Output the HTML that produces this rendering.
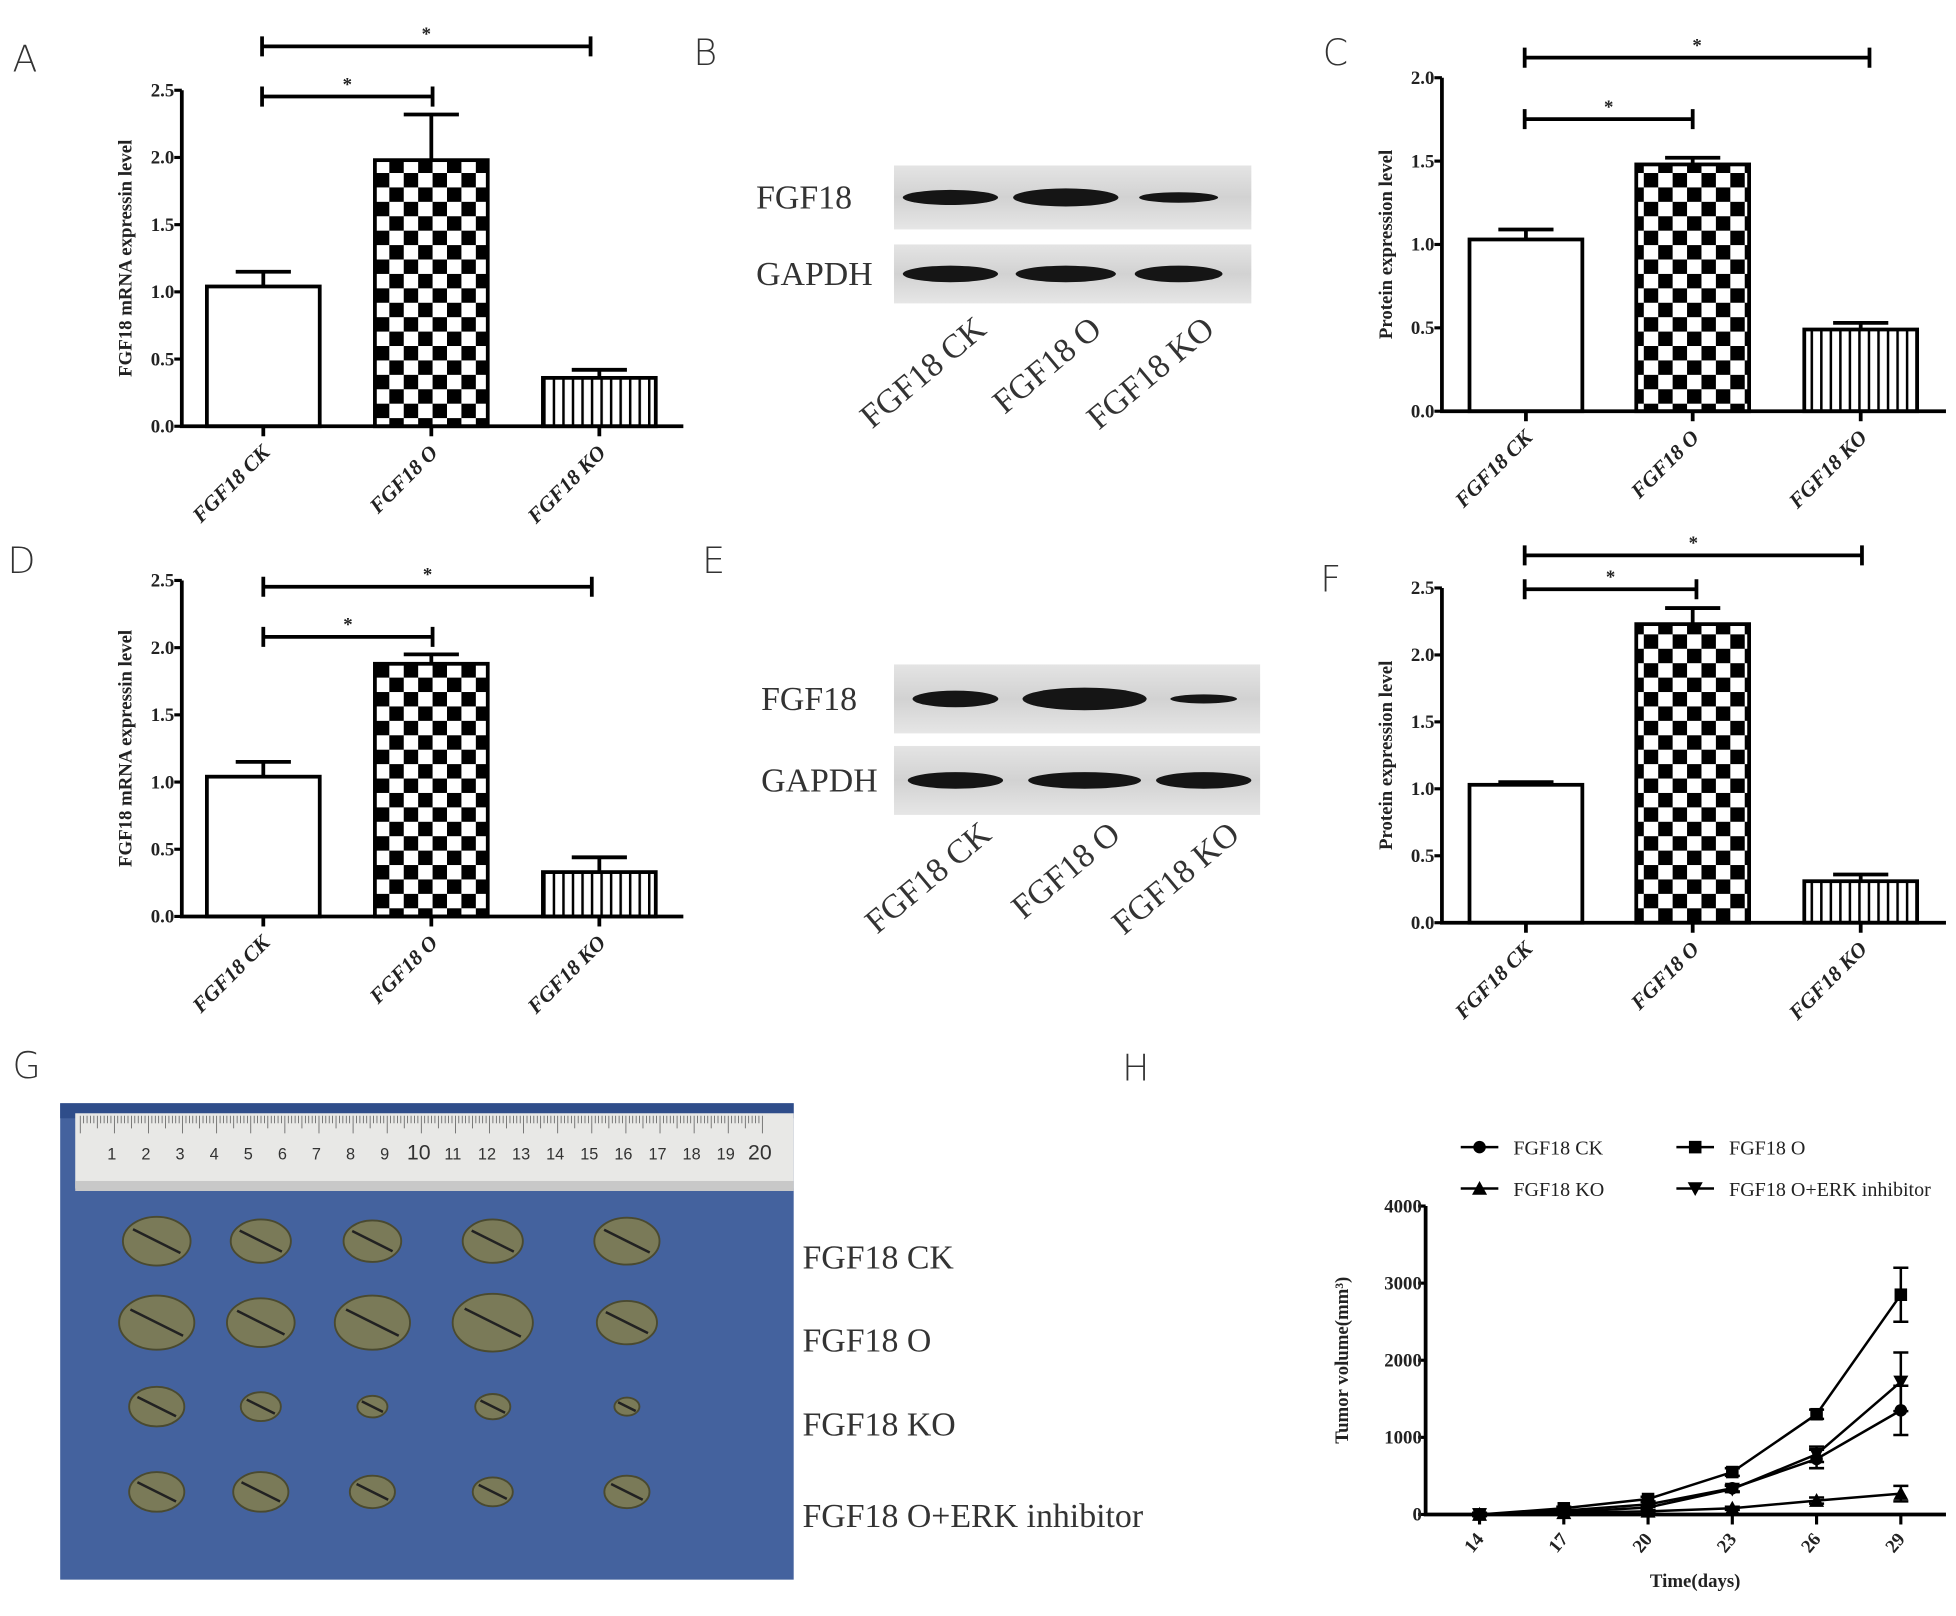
<!DOCTYPE html>
<html><head><meta charset="utf-8"><style>
html,body{margin:0;padding:0;background:#fff;}
svg{display:block;}
.pl{font-family:"DejaVu Sans","Liberation Sans",sans-serif;font-size:29px;fill:#333;font-weight:300;}
.tk{font-family:"Liberation Serif",serif;font-weight:bold;font-size:15px;fill:#222;}
.ti{font-family:"Liberation Serif",serif;font-weight:bold;font-size:15px;fill:#222;}
.cat{font-family:"Liberation Serif",serif;font-weight:bold;font-style:italic;font-size:17px;fill:#222;}
.wb{font-family:"Liberation Serif",serif;font-size:27px;fill:#333;}
.wbc{font-family:"Liberation Serif",serif;font-size:27px;fill:#333;}
.lg{font-family:"Liberation Serif",serif;font-size:16px;fill:#222;}
</style></head><body>
<svg id="fig" width="1956" height="1616" viewBox="0 0 1560 1289" preserveAspectRatio="none" xmlns="http://www.w3.org/2000/svg">
<defs>
<pattern id="chk" width="23" height="23" patternUnits="userSpaceOnUse"><rect width="23" height="23" fill="#fff"/><rect width="11.5" height="11.5" fill="#000"/><rect x="11.5" y="11.5" width="11.5" height="11.5" fill="#000"/></pattern>
<pattern id="vst" width="7.6" height="10" patternUnits="userSpaceOnUse"><rect width="7.6" height="10" fill="#fff"/><rect width="2" height="10" fill="#000"/></pattern>
<linearGradient id="wbg" x1="0" x2="0" y1="0" y2="1"><stop offset="0" stop-color="#e4e4e4"/><stop offset="0.5" stop-color="#d2d2d2"/><stop offset="1" stop-color="#e6e6e6"/></linearGradient>
</defs>
<g id="root"></g>
</svg>
<script>
// ---- bar chart data ----
const barCats = ["FGF18 CK", "FGF18 O", "FGF18 KO"];
const valsA = [1.04, 1.98, 0.36];
const errsA = [0.11, 0.34, 0.06];
const valsC = [1.03, 1.48, 0.49];
const errsC = [0.06, 0.04, 0.04];
const valsD = [1.04, 1.88, 0.33];
const errsD = [0.11, 0.07, 0.11];
const valsF = [1.03, 2.23, 0.31];
const errsF = [0.02, 0.12, 0.05];
const ticks25 = ["0.0", "0.5", "1.0", "1.5", "2.0", "2.5"];
const ticks20 = ["0.0", "0.5", "1.0", "1.5", "2.0"];
// ---- line chart data ----
const days = [14, 17, 20, 23, 26, 29];
const seriesNames = ["FGF18 CK", "FGF18 O", "FGF18 KO", "FGF18 O+ERK inhibitor"];
const ckVals = [0, 50, 130, 340, 720, 1350];
const oVals = [0, 80, 200, 550, 1300, 2850];
const koVals = [0, 20, 40, 80, 180, 270];
const erkVals = [0, 30, 90, 330, 780, 1720];
const ckErr = [20, 20, 30, 40, 120, 320];
const oErr = [20, 20, 30, 50, 60, 350];
const koErr = [10, 10, 15, 20, 40, 100];
const erkErr = [15, 20, 30, 40, 100, 380];
const volTicks = [0, 1000, 2000, 3000, 4000];

const NS = "http://www.w3.org/2000/svg";
const root = document.getElementById('root');
function mk(tag, at, parent) {
  const e = document.createElementNS(NS, tag);
  for (const k in at) e.setAttribute(k, at[k]);
  (parent || root).appendChild(e);
  return e;
}
function txt(s, at, parent) { const e = mk('text', at, parent); e.textContent = s; return e; }

function panelLetter(s, x, y) {
  const t = txt(s, {x: x, y: y, class: 'pl'});
  
  
}

function barChart(cfg) {
  const g = mk('g', {});
  
  
  const y = v => cfg.y0 - (v / cfg.max) * (cfg.y0 - cfg.yTop);
  const fills = ['#fff', 'url(#chk)', 'url(#vst)'];
  cfg.vals.forEach((v, i) => {
    const cx = cfg.cx[i];
    const b = mk('rect', {x: cx - cfg.bw / 2, y: y(v), width: cfg.bw, height: cfg.y0 - y(v), fill: fills[i], stroke: '#000', 'stroke-width': 3}, g);
    
    
    const e = v + cfg.errs[i];
    const eb = mk('path', {d: `M${cx},${y(v)}V${y(e)}M${cx - 22},${y(e)}H${cx + 22}`, stroke: '#000', 'stroke-width': 3, fill: 'none'}, g);
    
    
    mk('line', {x1: cx, x2: cx, y1: cfg.y0, y2: cfg.y0 + 8, stroke: '#000', 'stroke-width': 3}, g);
    const lt = txt(barCats[i], {class: 'cat', 'text-anchor': 'end', transform: `translate(${cx + 6},${cfg.y0 + 22}) rotate(-45)`}, g);
    
    
  });
  const ax = mk('path', {d: `M${cfg.ax},${cfg.yTop}V${cfg.y0}H${cfg.xEnd}`, stroke: '#000', 'stroke-width': 3, fill: 'none'}, g);
  
  
  cfg.ticks.forEach((t, i) => {
    const v = parseFloat(t);
    mk('line', {x1: cfg.ax - 6, x2: cfg.ax, y1: y(v), y2: y(v), stroke: '#000', 'stroke-width': 2.5}, g);
    const tl = txt(t, {x: cfg.ax - 6, y: y(v) + 5, class: 'tk', 'text-anchor': 'end'}, g);
    
    
  });
  const yt = txt(cfg.title, {class: 'ti', 'text-anchor': 'middle', transform: `translate(${cfg.ax - 40},${(cfg.yTop + cfg.y0) / 2}) rotate(-90)`}, g);
  
  
  cfg.sig.forEach(s => {
    const p = mk('path', {d: `M${s[0]},${s[2] - 8}V${s[2] + 8}M${s[0]},${s[2]}H${s[1]}M${s[1]},${s[2] - 8}V${s[2] + 8}`, stroke: '#000', 'stroke-width': 3, fill: 'none'}, g);
    
    
    const st = txt('*', {x: (s[0] + s[1]) / 2, y: s[2] - 5, class: 'tk', 'text-anchor': 'middle'}, g);
    
    
  });
}

barChart({name: 'chart-a', vals: valsA, errs: errsA, ticks: ticks25, max: 2.5, ax: 145, yTop: 72, y0: 340, xEnd: 545, bw: 90, cx: [210, 344, 478], title: 'FGF18 mRNA expressin level', sig: [[209, 471, 37], [209, 345, 77]]});
barChart({name: 'chart-d', vals: valsD, errs: errsD, ticks: ticks25, max: 2.5, ax: 145, yTop: 463, y0: 731, xEnd: 545, bw: 90, cx: [210, 344, 478], title: 'FGF18 mRNA expressin level', sig: [[210, 472, 468], [210, 345, 508]]});
barChart({name: 'chart-c', vals: valsC, errs: errsC, ticks: ticks20, max: 2.0, ax: 1150, yTop: 62, y0: 328, xEnd: 1552, bw: 90, cx: [1217, 1350, 1484], title: 'Protein expression level', sig: [[1216, 1491, 46], [1216, 1350, 95]]});
barChart({name: 'chart-f', vals: valsF, errs: errsF, ticks: ticks25, max: 2.5, ax: 1150, yTop: 469, y0: 736, xEnd: 1552, bw: 90, cx: [1217, 1350, 1484], title: 'Protein expression level', sig: [[1216, 1485, 443], [1216, 1353, 470]]});

function blot(name, x0, x1, rows, bandPos, bandW, labelX, catY) {
  const g = mk('g', {});
  
  
  rows.forEach(r => {
    mk('rect', {x: x0, y: r.y, width: x1 - x0, height: r.h, fill: 'url(#wbg)'}, g);
    bandPos.forEach((bx, i) => {
      const band = mk('ellipse', {cx: bx, cy: r.y + r.h / 2, rx: bandW[i] * r.s[i], ry: 6 * r.t[i], fill: '#151515'}, g);
      
      
    });
    const l = txt(r.label, {x: labelX, y: r.y + r.h / 2 + 9, class: 'wb'}, g);
    
    
  });
  bandPos.forEach((bx, i) => {
    const c = txt(barCats[i], {class: 'wbc', 'text-anchor': 'end', transform: `translate(${bx + 30},${catY}) rotate(-40)`}, g);
    
    
  });
}
blot('western-blot-b', 713, 998, [
  {y: 132, h: 51, label: 'FGF18', s: [1, 1.05, 0.9], t: [1, 1.2, 0.7]},
  {y: 195, h: 47, label: 'GAPDH', s: [1, 1, 1], t: [1.1, 1.1, 1.1]}
], [758, 850, 940], [38, 40, 35], 603, 265);
blot('western-blot-e', 713, 1005, [
  {y: 530, h: 55, label: 'FGF18', s: [0.9, 1.1, 0.7], t: [1.1, 1.5, 0.6]},
  {y: 595, h: 55, label: 'GAPDH', s: [1, 1, 1], t: [1.1, 1.1, 1.1]}
], [762, 865, 960], [38, 45, 38], 607, 668);

(function () {
  const g = mk('g', {});
  
  
  mk('rect', {x: 48, y: 880, width: 585, height: 380, fill: '#44629e'}, g);
  mk('rect', {x: 48, y: 880, width: 585, height: 12, fill: '#2f4d8a'}, g);
  mk('rect', {x: 60, y: 888, width: 573, height: 60, fill: '#e8e8e6'}, g);
  mk('rect', {x: 60, y: 942, width: 573, height: 8, fill: '#c8c8c8'}, g);
  for (let i = 0; i <= 200; i++) {
    const x = 64 + i * 2.72;
    mk('line', {x1: x, x2: x, y1: 890, y2: 890 + (i % 10 === 0 ? 14 : i % 5 === 0 ? 10 : 6), stroke: '#555', 'stroke-width': 0.6}, g);
  }
  for (let n = 1; n <= 20; n++) {
    txt(String(n), {x: 64 + n * 27.2 - 2, y: 925, 'font-family': 'Liberation Sans,sans-serif', 'font-size': n === 10 || n === 20 ? 17 : 13, fill: '#333', 'text-anchor': 'middle'}, g);
  }
  const rowsY = [990, 1055, 1122, 1190];
  const colsX = [125, 208, 297, 393, 500];
  const sizes = [[27, 24, 23, 24, 26], [30, 27, 30, 32, 24], [22, 16, 12, 14, 10], [22, 22, 18, 16, 18]];
  rowsY.forEach((ry, r) => colsX.forEach((cx, c) => {
    const s = sizes[r][c];
    mk('ellipse', {cx: cx, cy: ry, rx: s, ry: s * 0.72, fill: '#7a7a58', stroke: '#4a4a30', 'stroke-width': 1.5}, g);
    mk('line', {x1: cx - s * 0.7, y1: ry - s * 0.35, x2: cx + s * 0.7, y2: ry + s * 0.35, stroke: '#222', 'stroke-width': 2}, g);
  }));
  const lbls = ['FGF18 CK', 'FGF18 O', 'FGF18 KO', 'FGF18 O+ERK inhibitor'];
  const ly = [1012, 1078, 1145, 1218];
  lbls.forEach((s, i) => {
    const t = txt(s, {x: 640, y: ly[i], class: 'wb', 'font-size': 26});
    
    
  });
})();

(function () {
  const g = mk('g', {});
  
  
  const AX = 1137, Y0 = 1208, YT = 962, XE = 1552;
  const xs = d => 1180 + (d - 14) / 15 * (1516 - 1180);
  const ys = v => Y0 - v / 4000 * (Y0 - YT);
  const ax = mk('path', {d: `M${AX},${YT}V${Y0}H${XE}`, stroke: '#000', 'stroke-width': 3, fill: 'none'}, g);
  
  
  volTicks.forEach(v => {
    mk('line', {x1: AX - 6, x2: AX, y1: ys(v), y2: ys(v), stroke: '#000', 'stroke-width': 2.5}, g);
    const t = txt(String(v), {x: AX - 3, y: ys(v) + 5, class: 'tk', 'text-anchor': 'end'}, g);
    
    
  });
  days.forEach(d => {
    mk('line', {x1: xs(d), x2: xs(d), y1: Y0, y2: Y0 + 8, stroke: '#000', 'stroke-width': 2.5}, g);
    const t = txt(String(d), {class: 'tk', 'text-anchor': 'end', transform: `translate(${xs(d) + 4},${Y0 + 20}) rotate(-50)`}, g);
    
    
  });
  const yt = txt('Tumor volume(mm³)', {class: 'ti', 'text-anchor': 'middle', transform: `translate(${AX - 62},${(YT + Y0) / 2}) rotate(-90)`}, g);
  
  
  const xt = txt('Time(days)', {x: 1352, y: 1266, class: 'ti', 'text-anchor': 'middle'}, g);
  
  
  function marker(type, x, y, par) {
    if (type === 0) return mk('circle', {cx: x, cy: y, r: 5, fill: '#000'}, par);
    if (type === 1) return mk('rect', {x: x - 5, y: y - 5, width: 10, height: 10, fill: '#000'}, par);
    if (type === 2) return mk('path', {d: `M${x},${y - 6}L${x + 6},${y + 5}L${x - 6},${y + 5}Z`, fill: '#000'}, par);
    return mk('path', {d: `M${x},${y + 6}L${x + 6},${y - 5}L${x - 6},${y - 5}Z`, fill: '#000'}, par);
  }
  const allVals = [ckVals, oVals, koVals, erkVals];
  const allErr = [ckErr, oErr, koErr, erkErr];
  allVals.forEach((vals, si) => {
    const sg = mk('g', {}, g);
    
    
    mk('polyline', {points: vals.map((v, i) => xs(days[i]) + ',' + ys(v)).join(' '), fill: 'none', stroke: '#000', 'stroke-width': 2}, sg);
    vals.forEach((v, i) => {
      const x = xs(days[i]), e = allErr[si][i];
      mk('path', {d: `M${x},${ys(v - e)}V${ys(v + e)}M${x - 6},${ys(v + e)}H${x + 6}M${x - 6},${ys(v - e)}H${x + 6}`, stroke: '#000', 'stroke-width': 2, fill: 'none'}, sg);
      const m = marker(si, x, ys(v), sg);
      
      
    });
  });
  const lp = [[1165, 915], [1337, 915], [1165, 948], [1337, 948]];
  seriesNames.forEach((s, i) => {
    const lg = mk('g', {}, g);
    
    
    mk('line', {x1: lp[i][0], x2: lp[i][0] + 30, y1: lp[i][1], y2: lp[i][1], stroke: '#000', 'stroke-width': 2}, lg);
    marker(i, lp[i][0] + 15, lp[i][1], lg);
    txt(s, {x: lp[i][0] + 42, y: lp[i][1] + 6, class: 'lg'}, lg);
  });
})();

panelLetter('A', 10, 57);
panelLetter('B', 553, 52);
panelLetter('C', 1055, 52);
panelLetter('D', 6, 457);
panelLetter('E', 560, 457);
panelLetter('F', 1053, 472);
panelLetter('G', 10, 860);
panelLetter('H', 895, 862);
</script>
</body></html>
